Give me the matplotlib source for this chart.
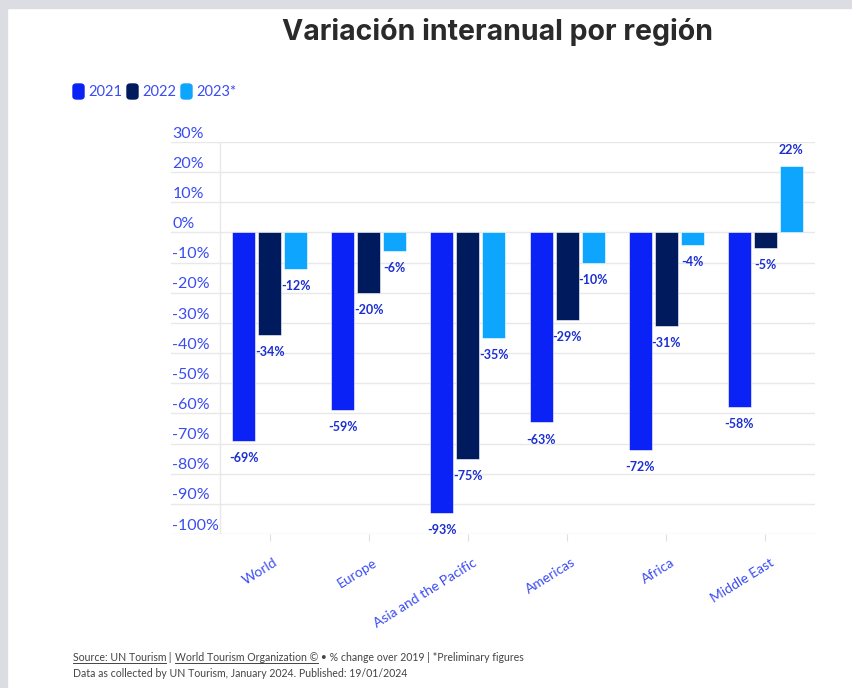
import numpy as np
import matplotlib
matplotlib.use("Agg")
import matplotlib.pyplot as plt
import matplotlib.transforms as mtransforms
from matplotlib.patches import Rectangle, FancyBboxPatch

# datos
regions = ["World", "Europe", "Asia and the Pacific", "Americas", "Africa", "Middle East"]
years = ["2021", "2022", "2023*"]
v2021 = [-69, -59, -93, -63, -72, -58]
v2022 = [-34, -20, -75, -29, -31, -5]
v2023 = [-12, -6, -35, -10, -4, 22]
yticks = [30, 20, 10, 0, -10, -20, -30, -40, -50, -60, -70, -80, -90, -100]

colors = ["#0a22f5", "#001a5e", "#0ea5ff"]
txt_blue = "#3a4cf2"
lab_blue = "#1c2fd2"

W, H = 853, 688
fig = plt.figure(figsize=(W / 100, H / 100), dpi=100)
fig.patch.set_facecolor("white")

# marco gris
fig.patches.append(Rectangle((0, 1 - 8 / H), 1, 8 / H, transform=fig.transFigure,
                             color="#dcdde2", zorder=0))
fig.patches.append(Rectangle((0, 0), 7 / W, 1, transform=fig.transFigure,
                             color="#dcdde2", zorder=0))

left, right, top, bottom = 171, 815, 142, 534
ax = fig.add_axes([left / W, 1 - bottom / H, (right - left) / W, (bottom - top) / H])
ax.set_ylim(-100, 30)
cat_w = 99.2
ax.set_xlim(-0.5 - (220 - left) / cat_w, 5.5)
for s in ax.spines.values():
    s.set_visible(False)

for t in yticks:
    ax.axhline(t, color="#e8e8e8", lw=1, zorder=0)
    ax.annotate(f"{t}%", xy=(0, t), xycoords=ax.get_yaxis_transform(),
                xytext=(1, 1), textcoords="offset points", ha="left", va="bottom",
                fontsize=11.5, color=txt_blue, family="Lato")
ax.axvline(-0.5, color="#e8e8e8", lw=1, zorder=0)
ax.set_yticks([])

x = np.arange(len(regions))
bw = 0.232
off = 0.262
for i, vals in enumerate([v2021, v2022, v2023]):
    xs = x + (i - 1) * off
    ax.bar(xs, vals, width=bw, color=colors[i], edgecolor="white", linewidth=0.4, zorder=2)
    for xi, v in zip(xs, vals):
        ax.annotate(f"{v}%", xy=(xi, v), xytext=(0, -8 if v < 0 else 7),
                    textcoords="offset points", ha="center",
                    va="top" if v < 0 else "bottom",
                    fontsize=9, fontweight="bold", color=lab_blue, family="Lato")

ax.set_xticks(x)
ax.set_xticklabels(regions, rotation=32, ha="right", rotation_mode="anchor",
                   fontsize=10, color=txt_blue, family="Lato")
ax.tick_params(axis="x", length=5, color="#e0e0e0", pad=11)
shift = mtransforms.ScaledTranslation(3 / 72, 0, fig.dpi_scale_trans)
for lab in ax.get_xticklabels():
    lab.set_transform(lab.get_transform() + shift)

# título
fig.text(498 / W, 1 - 32 / H, "Variación interanual por región", ha="center", va="center",
         fontsize=20.5, fontweight="bold", color="#2a2a2a", family="Inter")

# leyenda
lx = [73, 127, 181]
for xx, lab, c in zip(lx, years, colors):
    fig.patches.append(FancyBboxPatch((xx / W, 1 - 99 / H), 11 / W, 15 / H,
                                      boxstyle="round,pad=0,rounding_size=0.004",
                                      transform=fig.transFigure, color=c))
    fig.text((xx + 15) / W, 1 - 92 / H, lab, ha="left", va="center",
             fontsize=10.5, color=txt_blue, family="Lato")

# pie
foot_col = "#444444"
renderer = fig.canvas.get_renderer()
pieces = [("Source: UN Tourism", True), (" | ", False),
          ("World Tourism Organization ©", True),
          (" • % change over 2019 | *Preliminary figures", False)]
px = 73
for s, ul in pieces:
    t = fig.text(px / W, 1 - 661 / H, s, ha="left", va="baseline",
                 fontsize=7.6, color=foot_col, family="Lato")
    bb = t.get_window_extent(renderer)
    if ul:
        fig.add_artist(plt.Line2D([px / W, (px + bb.width) / W],
                                  [1 - 663 / H, 1 - 663 / H],
                                  transform=fig.transFigure, color=foot_col, lw=0.7))
    px += bb.width
fig.text(73 / W, 1 - 677 / H, "Data as collected by UN Tourism, January 2024. Published: 19/01/2024",
         ha="left", va="baseline", fontsize=7.6, color=foot_col, family="Lato")

fig.savefig("out.png", dpi=100)
